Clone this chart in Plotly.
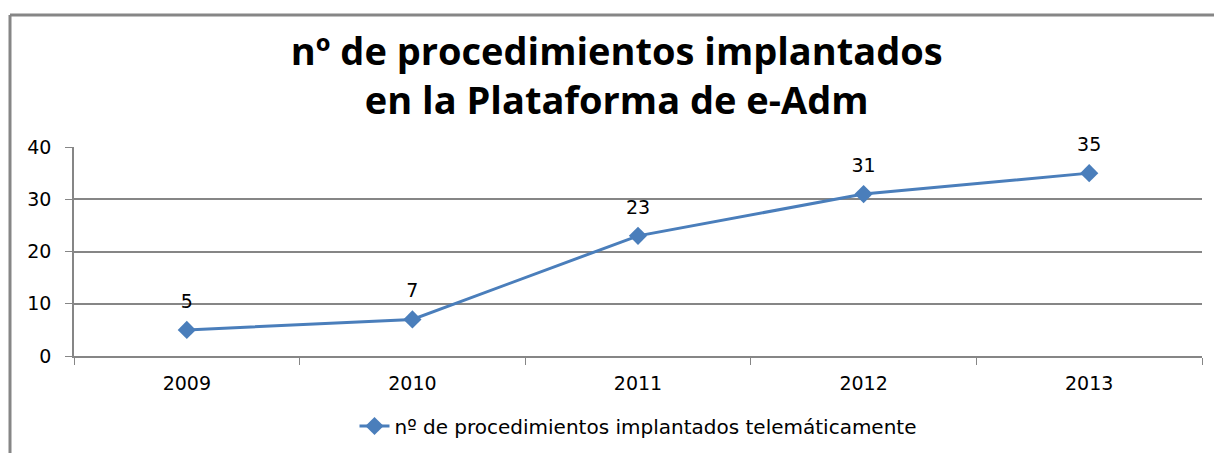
import plotly.graph_objects as go

years = ["2009", "2010", "2011", "2012", "2013"]
procedimientos = [5, 7, 23, 31, 35]
serie_nombre = "nº de procedimientos implantados telemáticamente"
titulo = "nº de procedimientos implantados<br>en la Plataforma de e-Adm"

W, H = 1214, 453
L, R, T, B = 74, 12, 147, 97
pw, ph = W - L - R, H - T - B

def px_x(p):
    return (p - L) / pw

def px_y(p):
    return (H - B - p) / ph

blue = "#4a7ebb"
grey = "#868686"
txt = dict(family="DejaVu Sans", size=19, color="#000")

fig = go.Figure()
fig.add_trace(go.Scatter(
    x=years, y=procedimientos, name=serie_nombre,
    mode="lines+markers",
    line=dict(color=blue, width=3),
    marker=dict(symbol="diamond", size=14, color=blue),
))
# data labels: invisible larger markers push the text a bit higher, like Excel
fig.add_trace(go.Scatter(
    x=years, y=procedimientos, mode="markers+text",
    text=[str(v) for v in procedimientos], textposition="top center",
    textfont=txt, marker=dict(size=26, opacity=0), cliponaxis=False,
    showlegend=False, hoverinfo="skip",
))

fig.update_layout(
    width=W, height=H,
    margin=dict(l=L, r=R, t=T, b=B, autoexpand=False),
    paper_bgcolor="white", plot_bgcolor="white",
    title=dict(text=titulo, x=0.508, xanchor="center",
               yref="container", y=1 - 65 / H, yanchor="middle",
               font=dict(family="Open Sans", size=38, color="#000", weight="bold")),
    showlegend=True,
    legend=dict(orientation="h", x=0.5, xanchor="center",
                yref="container", y=(H - 426) / H, yanchor="middle",
                font=dict(family="DejaVu Sans", size=20, color="#000")),
    font=txt,
)
fig.update_xaxes(type="category", range=[-0.5, 4.5], showgrid=False,
                 showline=True, linecolor=grey, linewidth=1.5,
                 ticks="outside", tickson="boundaries", ticklen=7, tickcolor=grey,
                 ticklabelstandoff=9, tickfont=txt, automargin=False)
fig.update_yaxes(range=[0, 40], dtick=10, showgrid=True, gridcolor=grey, gridwidth=1.5,
                 showline=True, linecolor=grey, linewidth=1.5,
                 ticks="outside", ticklen=7, tickcolor=grey, ticklabelstandoff=10,
                 zeroline=False, tickfont=txt, automargin=False)

# chart frame (Excel chart area border)
fig.add_shape(type="line", xref="paper", yref="paper",
              x0=px_x(10), x1=px_x(10), y0=px_y(15), y1=px_y(460),
              line=dict(color=grey, width=3))
fig.add_shape(type="line", xref="paper", yref="paper",
              x0=px_x(10), x1=px_x(1220), y0=px_y(15), y1=px_y(15),
              line=dict(color=grey, width=3))

fig.write_html("out.html", config={"displayModeBar": False},
               post_script="document.body.style.margin='0';")
